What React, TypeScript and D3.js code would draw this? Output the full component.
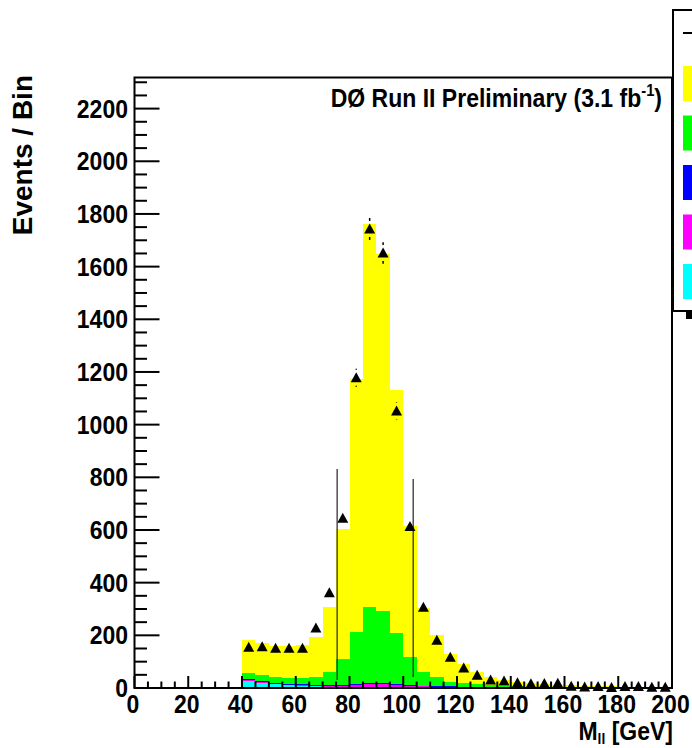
import React from "react";
import * as d3 from "d3";

// Dilepton invariant mass, 5 GeV bins from 40 to 200 GeV
const binLow = [
  40, 45, 50, 55, 60, 65, 70, 75, 80, 85, 90, 95, 100, 105, 110, 115,
  120, 125, 130, 135, 140, 145, 150, 155, 160, 165, 170, 175, 180, 185, 190, 195,
];
const binWidth = 5;

// Stacked background components, listed bottom to top
const cyanBkg = [28, 20, 14, 11, 9, 6, 5, 4, 3, 3, 3, 3, 2, 2, 2, 2, 2, 2, 1, 1, 1, 1, 1, 1, 1, 1, 1, 0, 0, 0, 0, 0];
const magentaBkg = [1, 1, 1, 1, 1, 2, 3, 5, 9, 14, 14, 10, 6, 4, 2, 2, 1, 1, 1, 0, 0, 0, 0, 0, 0, 0, 0, 0, 0, 0, 0, 0];
const blueBkg = [5, 5, 5, 5, 5, 5, 5, 4, 4, 3, 3, 3, 3, 3, 3, 2, 2, 2, 2, 2, 2, 1, 1, 1, 1, 1, 1, 1, 1, 1, 1, 1];
const greenBkg = [24, 23, 20, 20, 22, 29, 49, 98, 196, 289, 274, 193, 108, 53, 33, 18, 13, 9, 6, 5, 3, 3, 2, 2, 1, 1, 1, 1, 1, 1, 1, 1];
const yellowBkg = [124, 123, 120, 121, 126, 150, 247, 492, 961, 1454, 1355, 921, 496, 243, 160, 106, 74, 46, 30, 22, 16, 13, 11, 8, 7, 5, 4, 4, 3, 2, 2, 1];

// Observed events per bin
const dataCounts = [155, 157, 151, 151, 151, 228, 362, 645, 1178, 1743, 1652, 1052, 613, 307, 181, 117, 76, 48, 30, 27, 20, 16, 17, 18, 7, 4, 6, 2, 6, 6, 3, 3];

// Two long vertical error lines (GeV position, low and high event level)
const longBars = [
  { m: 75.4, lo: 30, hi: 832 },
  { m: 103.7, lo: 42, hi: 794 },
];

const xTickValues = [0, 20, 40, 60, 80, 100, 120, 140, 160, 180, 200];
const yTickValues = [0, 200, 400, 600, 800, 1000, 1200, 1400, 1600, 1800, 2000, 2200];

const stackLayers = [
  { name: "cyan", values: cyanBkg, color: "#00ffff" },
  { name: "magenta", values: magentaBkg, color: "#ff00ff" },
  { name: "blue", values: blueBkg, color: "#0000ff" },
  { name: "green", values: greenBkg, color: "#00ff00" },
  { name: "yellow", values: yellowBkg, color: "#ffff00" },
];

// Legend swatches, top to bottom
const legendColors = ["#ffff00", "#00ff00", "#0000ff", "#ff00ff", "#00ffff"];

const W = 692;
const H = 748;
const FONT = "'Liberation Sans', Arial, Helvetica, sans-serif";
const NARROW = 0.92;

// Text drawn slightly condensed, like the Helvetica used by the plotting style
function CText(props: {
  x: number;
  y: number;
  size: number;
  anchor?: string;
  dy?: string;
  children: React.ReactNode;
}) {
  return (
    <text
      transform={`translate(${props.x},${props.y}) scale(${NARROW},1)`}
      fontSize={props.size}
      textAnchor={props.anchor || "start"}
      dy={props.dy}
      fill="#000"
    >
      {props.children}
    </text>
  );
}

export default function App() {
  const x = d3.scaleLinear().domain([0, 200]).range([134.5, 672]);
  const y = d3.scaleLinear().domain([0, 2320]).range([688, 77]);

  const rows = binLow.map((lo, i) => {
    const r: Record<string, number> = { lo };
    stackLayers.forEach((l) => (r[l.name] = l.values[i]));
    return r;
  });
  const stacked = d3.stack<Record<string, number>>().keys(stackLayers.map((l) => l.name))(rows);

  const xMinor = d3.range(0, 201, 5);
  const yMinor = d3.range(0, 2320, 50);

  const gap = 8;
  const tri = (cx: number, cy: number) =>
    `M${cx},${cy - 5.5}L${cx - 5.5},${cy + 4.5}L${cx + 5.5},${cy + 4.5}Z`;

  return (
    <svg
      width={W}
      height={H}
      style={{ position: "absolute", left: 0, top: 0, background: "#fff" }}
      fontFamily={FONT}
      fontWeight="bold"
    >
      <rect x={0} y={0} width={W} height={H} fill="#fff" />

      {/* stacked backgrounds */}
      <g shapeRendering="crispEdges">
        {stacked.map((layer, li) => (
          <g key={li} fill={stackLayers[li].color}>
            {layer.map((d, i) => {
              const x0 = x(binLow[i]);
              const x1 = x(binLow[i] + binWidth);
              const y0 = y(d[0]);
              const y1 = y(d[1]);
              return <rect key={i} x={x0} y={y1} width={x1 - x0} height={Math.max(0, y0 - y1)} />;
            })}
          </g>
        ))}
      </g>

      {/* long vertical lines */}
      {longBars.map((b, i) => (
        <line key={i} x1={x(b.m)} x2={x(b.m)} y1={y(b.hi)} y2={y(b.lo)} stroke="#333" strokeWidth={1.3} />
      ))}

      {/* data points with statistical errors */}
      <g>
        {dataCounts.map((n, i) => {
          const cx = x(binLow[i] + binWidth / 2);
          const cy = y(n);
          const e = Math.sqrt(n);
          const top = y(n + e);
          const bot = y(Math.max(0, n - e));
          return (
            <g key={i}>
              {cy - top > gap && <line x1={cx} x2={cx} y1={top} y2={cy - gap} stroke="#000" strokeWidth={1.5} />}
              {bot - cy > gap && <line x1={cx} x2={cx} y1={cy + gap} y2={bot} stroke="#000" strokeWidth={1.5} />}
              <path d={tri(cx, cy)} fill="#000" />
            </g>
          );
        })}
      </g>

      {/* frame */}
      <rect x={134.5} y={77.5} width={672 - 134.5} height={688 - 77.5} fill="none" stroke="#000" strokeWidth={2} />

      {/* x axis ticks */}
      <g stroke="#000" strokeWidth={2}>
        {xMinor.map((v) => {
          const major = v % 20 === 0;
          return <line key={v} x1={x(v)} x2={x(v)} y1={688} y2={688 - (major ? 12 : 6.5)} />;
        })}
      </g>
      {xTickValues.map((v) => (
        <CText key={v} x={x(v) - 1.5} y={713} size={25} anchor="middle">
          {v}
        </CText>
      ))}

      {/* y axis ticks */}
      <g stroke="#000" strokeWidth={2}>
        {yMinor.map((v) => {
          const major = v % 200 === 0;
          return <line key={v} x1={134.5} x2={134.5 + (major ? 25 : 12.5)} y1={y(v)} y2={y(v)} />;
        })}
      </g>
      {yTickValues.map((v) => (
        <CText key={v} x={128} y={y(v)} size={25} anchor="end" dy="0.36em">
          {v}
        </CText>
      ))}

      {/* axis titles */}
      <CText x={673} y={740} size={25} anchor="end">
        M
        <tspan fontSize={15} dy={4}>ll</tspan>
        <tspan dy={-4}> [GeV]</tspan>
      </CText>
      <text
        transform="translate(31.5,75) rotate(-90)"
        fontSize={28}
        textAnchor="end"
        fill="#000"
      >
        Events / Bin
      </text>

      {/* experiment label */}
      <CText x={662} y={107} size={25} anchor="end">
        DØ Run II Preliminary (3.1 fb
        <tspan fontSize={16} dy={-11}>-1</tspan>
        <tspan dy={11}>)</tspan>
      </CText>

      {/* legend */}
      <rect x={686} y={18} width={20} height={301} fill="#000" />
      <rect x={673} y={10} width={30} height={301} fill="#fff" stroke="#000" strokeWidth={2} />
      <line x1={683} x2={700} y1={33} y2={33} stroke="#000" strokeWidth={2} />
      {legendColors.map((c, i) => (
        <rect key={c} x={683} y={66 + i * 49.5} width={20} height={35} fill={c} />
      ))}
    </svg>
  );
}
